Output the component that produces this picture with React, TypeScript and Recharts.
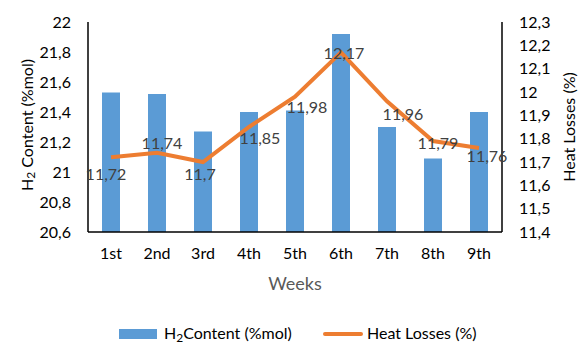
import React, { useEffect } from "react"
import { ComposedChart, Bar, Line, XAxis, YAxis, Legend, LabelList } from "recharts"

const weeks = ["1st", "2nd", "3rd", "4th", "5th", "6th", "7th", "8th", "9th"]
const h2Content = [21.53, 21.52, 21.27, 21.4, 21.41, 21.92, 21.3, 21.09, 21.4]
const heatLosses = [11.72, 11.74, 11.7, 11.85, 11.98, 12.17, 11.96, 11.79, 11.76]
const h2Ticks = [20.6, 20.8, 21, 21.2, 21.4, 21.6, 21.8, 22]
const heatTicks = [11.4, 11.5, 11.6, 11.7, 11.8, 11.9, 12, 12.1, 12.2, 12.3]

// where each heat-loss label sits relative to its point
const labelNudge = [
  [-5, 16], [5, -10], [-3, 11], [11, 10], [12, 10], [3, 0], [16, 12], [5, 1], [8, 7],
]

const BLUE = "#5B9BD5"
const ORANGE = "#ED7D31"
const FONT = "Lato, 'Open Sans', sans-serif"

const data = weeks.map((w, i) => ({ week: w, h2: h2Content[i], heat: heatLosses[i] }))

const comma = (v: number) => String(Math.round(v * 100) / 100).replace(".", ",")

const HeatLabel = (props: any) => {
  const { x, y, index, value } = props
  const [dx, dy] = labelNudge[index] || [0, 0]
  return (
    <text x={x + dx} y={y + dy} textAnchor="middle" dominantBaseline="central" fill="#404040" fontSize={16} fontFamily={FONT}>
      {comma(value)}
    </text>
  )
}

const LeftTitle = (props: any) => {
  const { viewBox } = props
  const cy = viewBox.y + viewBox.height / 2 - 2
  return (
    <text x={26} y={cy} transform={`rotate(-90, 26, ${cy})`} textAnchor="middle" dominantBaseline="central" fill="#000" fontSize={16} fontFamily={FONT}>
      H<tspan fontSize={12} dy={4}>2</tspan>
      <tspan dy={-4}> Content (%mol)</tspan>
    </text>
  )
}

const RightTitle = (props: any) => {
  const { viewBox } = props
  const cy = viewBox.y + viewBox.height / 2
  return (
    <text x={568} y={cy} transform={`rotate(-90, 568, ${cy})`} textAnchor="middle" dominantBaseline="central" fill="#000" fontSize={16} fontFamily={FONT}>
      Heat Losses (%)
    </text>
  )
}

const LegendBox = () => (
  <div style={{ position: "relative", height: 20, fontFamily: FONT, fontSize: 16, lineHeight: "18px", color: "#000" }}>
    <div style={{ position: "absolute", left: 119, top: 5, width: 38, height: 10, background: BLUE }} />
    <div style={{ position: "absolute", left: 164, top: 0, whiteSpace: "nowrap" }}>
      H<span style={{ fontSize: 12, position: "relative", top: 3 }}>2</span>Content (%mol)
    </div>
    <div style={{ position: "absolute", left: 323, top: 8, width: 40, height: 4, borderRadius: 2, background: ORANGE }} />
    <div style={{ position: "absolute", left: 367, top: 0, whiteSpace: "nowrap" }}>Heat Losses (%)</div>
  </div>
)

export default function App() {
  useEffect(() => {
    document.body.style.margin = "0"
  }, [])

  return (
    <div style={{ width: 580, height: 345, background: "#fff" }}>
      <ComposedChart width={580} height={345} data={data} margin={{ top: 22, right: 0, bottom: 53, left: 0 }} barCategoryGap="30%">
        <XAxis
          dataKey="week"
          height={60}
          axisLine={{ stroke: "#000", strokeWidth: 1.5 }}
          tickLine={false}
          tickMargin={10}
          tick={{ fill: "#000", fontSize: 16, fontFamily: FONT }}
          label={{ value: "Weeks", position: "insideBottom", offset: 2, fill: "#595959", fontSize: 18, fontFamily: FONT }}
        />
        <YAxis
          yAxisId="left"
          width={88}
          domain={[20.6, 22]}
          ticks={h2Ticks}
          interval={0}
          tickFormatter={comma}
          axisLine={{ stroke: "#000", strokeWidth: 1.5 }}
          tickLine={false}
          tickMargin={11}
          tick={{ fill: "#000", fontSize: 16, fontFamily: FONT }}
          label={<LeftTitle />}
        />
        <YAxis
          yAxisId="right"
          orientation="right"
          width={78}
          domain={[11.4, 12.3]}
          ticks={heatTicks}
          interval={0}
          tickFormatter={comma}
          axisLine={{ stroke: "#000", strokeWidth: 1.5 }}
          tickLine={false}
          tickMargin={11}
          tick={{ fill: "#000", fontSize: 16, fontFamily: FONT }}
          label={<RightTitle />}
        />
        <Bar yAxisId="left" dataKey="h2" name="H2 Content (%mol)" fill={BLUE} barSize={18} isAnimationActive={false} />
        <Line
          yAxisId="right"
          dataKey="heat"
          name="Heat Losses (%)"
          stroke={ORANGE}
          strokeWidth={4}
          dot={false}
          activeDot={false}
          isAnimationActive={false}
        >
          <LabelList dataKey="heat" content={<HeatLabel />} />
        </Line>
        <Legend
          layout="horizontal"
          verticalAlign="middle"
          align="center"
          content={<LegendBox />}
          wrapperStyle={{ position: "absolute", top: 324, left: 0, width: 580 }}
        />
      </ComposedChart>
    </div>
  )
}
